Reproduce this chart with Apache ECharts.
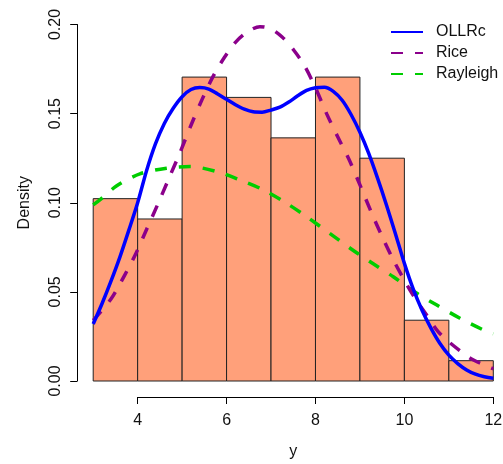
<!DOCTYPE html>
<html>
<head>
<meta charset="utf-8">
<script src="https://cdn.jsdelivr.net/npm/echarts@6/dist/echarts.min.js"></script>
<style>
html,body{margin:0;padding:0;background:#fff;}
#chart{width:503px;height:464px;}
</style>
</head>
<body>
<div id="chart"></div>
<script>
// ---- data ----
const binStart = [3, 4, 5, 6, 7, 8, 9, 10, 11];
const binEnd = [4, 5, 6, 7, 8, 9, 10, 11, 12];
const binDensity = [0.1023, 0.0909, 0.1705, 0.1591, 0.1364, 0.1705, 0.125, 0.0341, 0.0114];

const ollrcX = [3.0, 3.2, 3.4, 3.6, 3.8, 4.0, 4.2, 4.4, 4.6, 4.8, 5.0, 5.2, 5.4, 5.6, 5.8, 6.0, 6.2, 6.4, 6.6, 6.8, 7.0, 7.2, 7.4, 7.6, 7.8, 8.0, 8.2, 8.4, 8.6, 8.8, 9.0, 9.2, 9.4, 9.6, 9.8, 10.0, 10.2, 10.4, 10.6, 10.8, 11.0, 11.2, 11.4, 11.6, 11.8, 12.0];
const ollrcY = [0.032, 0.0435, 0.056, 0.0695, 0.0845, 0.1, 0.118, 0.133, 0.1445, 0.153, 0.1595, 0.1635, 0.1646, 0.1638, 0.161, 0.158, 0.155, 0.1525, 0.151, 0.1508, 0.152, 0.1536, 0.1565, 0.16, 0.163, 0.1645, 0.1648, 0.1625, 0.1575, 0.1495, 0.1395, 0.1275, 0.1135, 0.0985, 0.0825, 0.066, 0.0515, 0.0395, 0.0295, 0.021, 0.0145, 0.0098, 0.0062, 0.0038, 0.0024, 0.0015];

const riceX = [3.0, 3.4, 3.7, 3.95, 4.2, 4.45, 4.7, 4.95, 5.2, 5.45, 5.7, 5.95, 6.2, 6.45, 6.75, 7.0, 7.25, 7.5, 7.75, 8.0, 8.25, 8.5, 8.75, 9.0, 9.25, 9.5, 9.75, 10.0, 10.25, 10.5, 10.75, 11.0, 11.25, 11.5, 11.75, 12.0];
const riceY = [0.034, 0.046, 0.059, 0.071, 0.085, 0.099, 0.1135, 0.128, 0.1435, 0.158, 0.171, 0.1815, 0.19, 0.1955, 0.1988, 0.1975, 0.193, 0.186, 0.177, 0.1645, 0.15, 0.137, 0.1245, 0.11, 0.095, 0.081, 0.068, 0.0565, 0.046, 0.037, 0.028, 0.022, 0.017, 0.0125, 0.0095, 0.0068];

const rayleighX = [3.0, 3.15, 3.53, 4.05, 4.65, 5.18, 5.78, 6.3, 6.83, 7.35, 7.8, 8.78, 9.23, 9.75, 10.28, 10.73, 11.25, 11.78, 12.0];
const rayleighY = [0.0988, 0.1016, 0.1095, 0.1162, 0.1194, 0.1203, 0.1175, 0.1128, 0.1072, 0.0997, 0.0922, 0.0745, 0.0669, 0.0585, 0.0492, 0.0426, 0.0352, 0.0286, 0.0265];

const xTicks = [4, 6, 8, 10, 12];
const yTicks = [0.00, 0.05, 0.10, 0.15, 0.20];

const seriesNames = ['OLLRc', 'Rice', 'Rayleigh'];
// ---- chart ----
const FONT = '"Liberation Sans", Arial, Helvetica, sans-serif';
const TXT = '#111';
const zip = (xs, ys) => xs.map((x, i) => [x, ys[i]]);

const chart = echarts.init(document.getElementById('chart'), null, {renderer: 'canvas'});
const option = {
  animation: false,
  backgroundColor: '#fff',
  textStyle: {fontFamily: FONT, color: TXT},
  grid: [
    {left: 93.2, right: 9.7, top: 24.5, bottom: 83, outerBoundsMode: 'none'},
    {left: 137.7, right: 9.7, top: 300, bottom: 67, outerBoundsMode: 'none'}
  ],
  xAxis: [
    {gridIndex: 0, type: 'value', min: 3, max: 12, offset: 16,
     axisLine: {show: false, onZero: false}, axisTick: {show: false}, axisLabel: {show: false},
     splitLine: {show: false},
     name: 'y', nameLocation: 'middle', nameGap: 47,
     nameTextStyle: {fontSize: 16, color: TXT, fontFamily: FONT}},
    {gridIndex: 1, type: 'value', min: 4, max: 12, interval: 2,
     axisLine: {show: true, onZero: false, lineStyle: {color: '#000', width: 1}},
     axisTick: {show: true, length: 7, lineStyle: {color: '#000'}},
     axisLabel: {fontSize: 16, color: TXT, fontFamily: FONT, margin: 16,
       customValues: xTicks},
     splitLine: {show: false}}
  ],
  yAxis: [
    {gridIndex: 0, type: 'value', min: 0, max: 0.2, interval: 0.05, offset: 16,
     axisLine: {show: true, onZero: false, lineStyle: {color: '#000', width: 1}},
     axisTick: {show: true, length: 7, lineStyle: {color: '#000'}},
     axisLabel: {fontSize: 16, color: TXT, fontFamily: FONT, rotate: 90, margin: 14,
       formatter: v => v.toFixed(2), customValues: yTicks},
     splitLine: {show: false},
     name: 'Density', nameLocation: 'middle', nameGap: 45, nameRotate: 90,
     nameTextStyle: {fontSize: 16, color: TXT, fontFamily: FONT}},
    {gridIndex: 1, type: 'value', min: 0, max: 1, show: false}
  ],
  legend: {
    orient: 'vertical', left: 385, top: 19, itemWidth: 32, itemHeight: 14, itemGap: 5,
    data: seriesNames,
    itemStyle: {opacity: 0},
    textStyle: {fontSize: 16, color: TXT, fontFamily: FONT, padding: [0, 0, 0, 8]}
  },
  series: [
    {
      type: 'custom', name: 'hist', xAxisIndex: 0, yAxisIndex: 0, z: 1,
      data: binStart.map((s, i) => [s, binEnd[i], binDensity[i]]),
      renderItem: function (params, api) {
        const p0 = api.coord([api.value(0), 0]);
        const p1 = api.coord([api.value(1), api.value(2)]);
        return {
          type: 'rect',
          shape: {x: p0[0], y: p1[1], width: p1[0] - p0[0], height: p0[1] - p1[1]},
          style: {fill: '#FFA07A', stroke: '#222', lineWidth: 1}
        };
      }
    },
    {
      type: 'line', name: seriesNames[0], xAxisIndex: 0, yAxisIndex: 0, z: 5,
      data: zip(ollrcX, ollrcY), smooth: 0.3, symbol: 'none',
      lineStyle: {color: '#0000FF', width: 3.5}, itemStyle: {color: '#0000FF'}
    },
    {
      type: 'line', name: seriesNames[1], xAxisIndex: 0, yAxisIndex: 0, z: 4,
      data: zip(riceX, riceY), smooth: 0.3, symbol: 'none',
      lineStyle: {color: '#8B008B', width: 3.5, type: [12, 12]}, itemStyle: {color: '#8B008B'}
    },
    {
      type: 'line', name: seriesNames[2], xAxisIndex: 0, yAxisIndex: 0, z: 3,
      data: zip(rayleighX, rayleighY), smooth: 0.3, symbol: 'none',
      lineStyle: {color: '#00CD00', width: 3.5, type: [12, 12]}, itemStyle: {color: '#00CD00'}
    }
  ]
};
chart.setOption(option);
</script>
</body>
</html>
